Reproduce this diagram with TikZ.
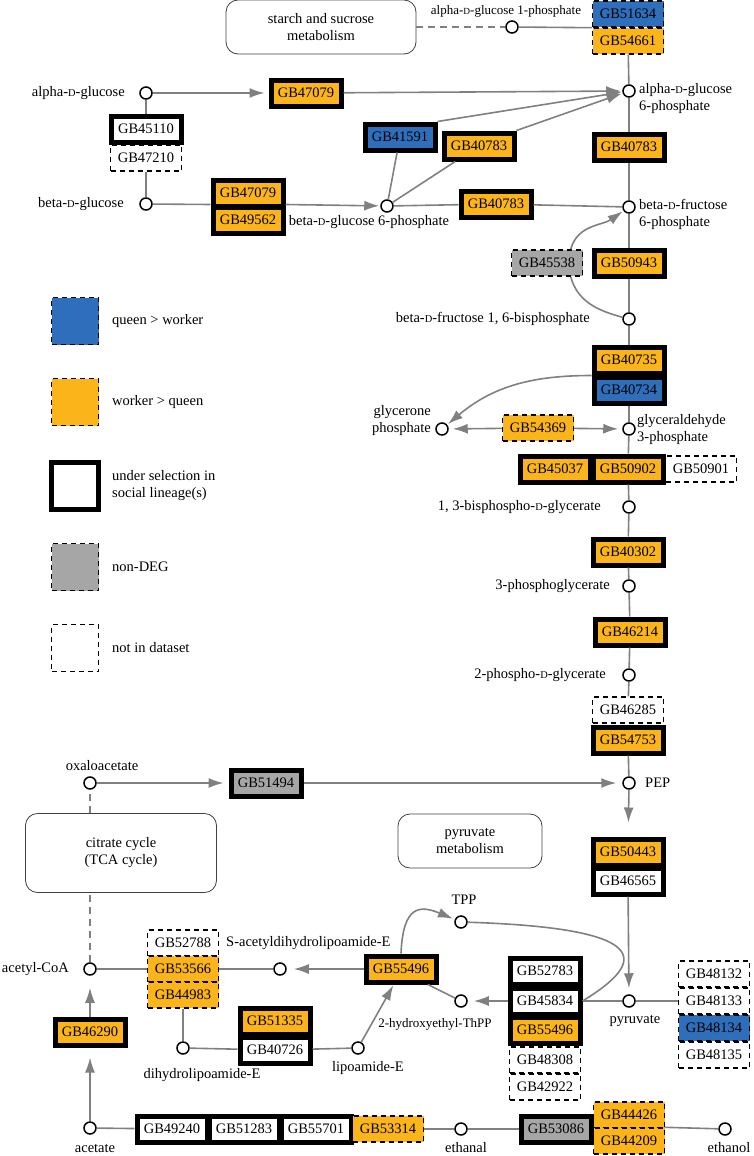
\documentclass[tikz,border=0pt]{standalone}
\usepackage{fontspec}
\setmainfont{Liberation Serif}
\usepackage{graphicx}
\usetikzlibrary{arrows.meta}

\definecolor{qwblue}{RGB}{47,110,186}
\definecolor{wqorange}{RGB}{251,180,26}
\definecolor{ndgrey}{RGB}{166,166,166}
\definecolor{edgegrey}{RGB}{128,128,128}

\newcommand{\dsc}{\scalebox{0.72}{D}}
\newcommand{\lblfont}{\fontsize{14.5}{17}\selectfont}
\newcommand{\smlfont}{\fontsize{13}{15}\selectfont}

\begin{document}
\begin{tikzpicture}[x=1pt, y=-1pt, font=\lblfont,
    met/.style={circle, draw=black, fill=white, line width=1.5pt, minimum size=12pt, inner sep=0pt},
    gene/.style={rectangle, minimum width=70pt, minimum height=26pt, inner sep=0pt},
    sel/.style={gene, draw=black, line width=5pt},
    nid/.style={gene, minimum width=71pt, draw=black, line width=1.4pt, dash pattern=on 5pt off 4pt},
    qw/.style={fill=qwblue}, wq/.style={fill=wqorange}, nd/.style={fill=ndgrey}, wht/.style={fill=white},
    legbox/.style={minimum size=47pt, inner sep=0pt},
    pathway/.style={rectangle, rounded corners=12pt, draw=black!75, line width=0.8pt, align=center},
    txt/.style={inner sep=0pt},
    rxn/.style={draw=edgegrey, line width=1.6pt},
    ar/.style={rxn, -{Latex[length=15pt, width=10pt]}, shorten >=4pt}]

    \useasboundingbox (0, 0) rectangle (753, 1156);

    \draw
    (321, 27) node[pathway, minimum width=190pt, minimum height=54pt](starch){starch and sucrose\\metabolism}
    (121, 853) node[pathway, minimum width=191pt, minimum height=79pt](tca){citrate cycle\\(TCA cycle)}
    (470, 841) node[pathway, minimum width=144pt, minimum height=54pt](pyrmet){pyruvate\\metabolism}

    (512, 27) node[met](a1p){}
    (146, 93) node[met](aglc){}
    (146, 204) node[met](bglc){}
    (387, 206) node[met](bg6p){}
    (629, 91) node[met](ag6p){}
    (629, 207) node[met](bf6p){}
    (629, 319) node[met](fbp){}
    (442, 429) node[met](dhap){}
    (629, 429) node[met](gap){}
    (629, 507) node[met](bpg){}
    (629, 586) node[met](pga3){}
    (629, 675) node[met](pga2){}
    (629, 783) node[met](pep){}
    (629, 1001) node[met](pyr){}
    (90, 783) node[met](oaa){}
    (90, 969) node[met](acoa){}
    (90, 1128) node[met](acet){}
    (280, 969) node[met](sacl){}
    (183, 1048) node[met](dhl){}
    (358, 1048) node[met](lip){}
    (461, 1001) node[met](hte){}
    (461, 922) node[met](tpp){}
    (461, 1129) node[met](ethal){}
    (725, 1129) node[met](ethol){};

    \draw
    (628, 14) node[nid, qw](g51634){GB51634}
    (628, 41) node[nid, wq](g54661){GB54661}
    (306, 93) node[sel, wq](g47079a){GB47079}
    (146, 129) node[sel, wht](g45110){GB45110}
    (146, 158) node[nid, wht](g47210){GB47210}
    (248, 193) node[sel, wq](g47079b){GB47079}
    (248, 220) node[sel, wq](g49562){GB49562}
    (400, 137) node[sel, qw](g41591){GB41591}
    (479, 146) node[sel, wq](g40783a){GB40783}
    (496, 204) node[sel, wq](g40783b){GB40783}
    (629, 147) node[sel, wq](g40783c){GB40783}
    (547, 263) node[nid, nd](g45538){GB45538}
    (629, 263) node[sel, wq](g50943){GB50943}
    (629, 360) node[sel, wq](g40735){GB40735}
    (629, 390) node[sel, qw](g40734){GB40734}
    (538, 428) node[nid, wq](g54369){GB54369}
    (555, 469) node[sel, wq](g45037){GB45037}
    (628, 469) node[sel, wq](g50902){GB50902}
    (701, 469) node[nid, wht](g50901){GB50901}
    (628, 552) node[sel, wq](g40302){GB40302}
    (630, 632) node[sel, wq](g46214){GB46214}
    (628, 710) node[nid, wht](g46285){GB46285}
    (628, 740) node[sel, wq](g54753){GB54753}
    (266, 783) node[sel, nd](g51494){GB51494}
    (628, 852) node[sel, wq](g50443){GB50443}
    (628, 881) node[sel, wht](g46565){GB46565}
    (545, 971) node[sel, wht](g52783){GB52783}
    (545, 1001) node[sel, wht](g45834){GB45834}
    (545, 1030) node[sel, wq](g55496b){GB55496}
    (545, 1060) node[nid, wht](g48308){GB48308}
    (545, 1087) node[nid, wht](g42922){GB42922}
    (714, 974) node[nid, wht](g48132){GB48132}
    (714, 1001) node[nid, wht](g48133){GB48133}
    (714, 1028) node[nid, qw](g48134){GB48134}
    (714, 1055) node[nid, wht](g48135){GB48135}
    (401, 969) node[sel, wq](g55496a){GB55496}
    (183, 943) node[nid, wht](g52788){GB52788}
    (183, 969) node[nid, wq](g53566){GB53566}
    (183, 995) node[nid, wq](g44983){GB44983}
    (275, 1021) node[sel, wq](g51335){GB51335}
    (275, 1050) node[sel, wht](g40726){GB40726}
    (90, 1032) node[sel, wq](g46290){GB46290}
    (172, 1129) node[sel, wht](g49240){GB49240}
    (244, 1129) node[sel, wht](g51283){GB51283}
    (316, 1129) node[sel, wht](g55701){GB55701}
    (388, 1129) node[nid, wq](g53314){GB53314}
    (556, 1129) node[sel, nd](g53086){GB53086}
    (629, 1115) node[nid, wq](g44426){GB44426}
    (629, 1141) node[nid, wq](g44209){GB44209};

    % metabolite names
    \draw
    (506, 11) node[txt, font=\smlfont](ta1p){alpha-\dsc-glucose 1-phosphate}
    (125, 93) node[txt, anchor=east](taglc){alpha-\dsc-glucose}
    (124, 204) node[txt, anchor=east](tbglc){beta-\dsc-glucose}
    (369, 222) node[txt](tbg6p){beta-\dsc-glucose 6-phosphate}
    (639, 99) node[txt, anchor=west, align=left](tag6p){alpha-\dsc-glucose\\6-phosphate}
    (639, 214) node[txt, anchor=west, align=left](tbf6p){beta-\dsc-fructose\\6-phosphate}
    (590, 319) node[txt, anchor=east](tfbp){beta-\dsc-fructose 1, 6-bisphosphate}
    (431, 421) node[txt, anchor=east, align=right](tdhap){glycerone\\phosphate}
    (637, 430) node[txt, anchor=west, align=left](tgap){glyceraldehyde\\3-phosphate}
    (601, 507) node[txt, anchor=east](tbpg){1, 3-bisphospho-\dsc-glycerate}
    (610, 586) node[txt, anchor=east](tpga3){3-phosphoglycerate}
    (606, 675) node[txt, anchor=east](tpga2){2-phospho-\dsc-glycerate}
    (645, 783) node[txt, anchor=west](tpep){PEP}
    (102, 766) node[txt](toaa){oxaloacetate}
    (69, 969) node[txt, anchor=east](tacoa){acetyl-CoA}
    (95, 1148) node[txt](tacet){acetate}
    (226, 943) node[txt, anchor=west](tsacl){S-acetyldihydrolipoamide-E}
    (202, 1075) node[txt](tdhl){dihydrolipoamide-E}
    (368, 1068) node[txt](tlip){lipoamide-E}
    (435, 1024) node[txt, font=\smlfont](thte){2-hydroxyethyl-ThPP}
    (464, 900) node[txt](ttpp){TPP}
    (635, 1021) node[txt](tpyr){pyruvate}
    (466, 1148) node[txt](tethal){ethanal}
    (729, 1148) node[txt](tethol){ethanol};

    % legend
    \draw
    (75, 321) node[nid, qw, legbox](leg1){}
    (75, 402) node[nid, wq, legbox](leg2){}
    (75, 486) node[sel, wht, legbox](leg3){}
    (75, 567) node[nid, nd, legbox](leg4){}
    (75, 648) node[nid, wht, legbox](leg5){}
    (112, 321) node[txt, anchor=west](tleg1){queen > worker}
    (112, 402) node[txt, anchor=west](tleg2){worker > queen}
    (112, 486) node[txt, anchor=west, align=left](tleg3){under selection in\\social lineage(s)}
    (112, 567) node[txt, anchor=west](tleg4){non-DEG}
    (112, 648) node[txt, anchor=west](tleg5){not in dataset};

    \draw[rxn, dash pattern=on 7pt off 5pt] (starch) -- (a1p);
    \draw[rxn] (a1p) -- (g51634.south west);
    \draw[rxn] (g54661) -- (ag6p);
    \draw[ar] (aglc) -- (g47079a);
    \draw[ar, shorten >=1pt] (g47079a) -- (ag6p);
    \draw[rxn] (aglc) -- (g45110);
    \draw[rxn] (g47210) -- (bglc);
    \draw[rxn] (bglc) -- (g49562.north west);
    \draw[ar, shorten >=1pt] (g49562.north east) -- (bg6p);
    \draw[rxn] (bg6p) -- (g41591);
    \draw[ar, shorten >=1pt] (g41591.north east) -- (ag6p);
    \draw[rxn] (bg6p) -- (g40783a);
    \draw[ar, shorten >=1pt] (g40783a.north east) -- (ag6p);
    \draw[rxn] (bg6p) -- (g40783b);
    \draw[rxn] (g40783b) -- (bf6p);
    \draw[rxn] (ag6p) -- (g40783c);
    \draw[rxn] (g40783c) -- (bf6p);
    \draw[rxn] (bf6p) -- (g50943);
    \draw[rxn] (g50943) -- (fbp);
    \draw[rxn] (fbp) to[out=165, in=-75] (g45538.-30);
    \draw[ar, shorten >=1pt] (g45538.30) to[out=75, in=-145] (bf6p);
    \draw[rxn] (fbp) -- (g40735);
    \draw[rxn] (g40734) -- (gap);
    \draw[ar, shorten >=1pt] (g40735.south west) to[out=180, in=40] (dhap);
    \draw[ar] (g54369) -- (dhap);
    \draw[ar] (g54369) -- (gap);
    \draw[rxn] (gap) -- (g50902);
    \draw[rxn] (g50902) -- (bpg);
    \draw[rxn] (bpg) -- (g40302);
    \draw[rxn] (g40302) -- (pga3);
    \draw[rxn] (pga3) -- (g46214);
    \draw[rxn] (g46214) -- (pga2);
    \draw[rxn] (pga2) -- (g46285);
    \draw[rxn] (g54753) -- (pep);
    \draw[ar, shorten >=5pt] (oaa) -- (g51494);
    \draw[ar, shorten >=6pt] (g51494) -- (pep);
    \draw[ar, shorten >=14pt] (pep) -- (g50443);
    \draw[ar, shorten >=6pt] (g46565) -- (pyr);
    \draw[rxn] (pyr) -- (g48133);
    \draw[rxn] (pyr) -- (g45834);
    \draw[ar, shorten >=6pt] (g45834) -- (hte);
    \draw[rxn] (g45834.east) .. controls (650, 960) and (650, 928) .. (tpp);
    \draw[ar, shorten >=2pt] (g55496a.north) .. controls (403, 905) and (420, 905) .. (tpp);
    \draw[rxn] (hte) -- (g55496a.-30);
    \draw[ar, shorten >=1pt] (lip) -- (g55496a.-115);
    \draw[ar, shorten >=7pt] (g55496a) -- (sacl);
    \draw[rxn] (sacl) -- (g53566);
    \draw[rxn] (g53566) -- (acoa);
    \draw[rxn] (g44983) -- (dhl);
    \draw[rxn] (dhl) -- (g40726);
    \draw[rxn] (g40726) -- (lip);
    \draw[ar, shorten >=10pt] (acet) -- (g46290);
    \draw[ar, shorten >=12pt] (g46290) -- (acoa);
    \draw[rxn, dash pattern=on 7pt off 5pt] (acoa) -- (acoa |- tca.south);
    \draw[rxn, dash pattern=on 7pt off 5pt] (oaa |- tca.north) -- (oaa);
    \draw[rxn] (acet) -- (g49240);
    \draw[rxn] (g53314) -- (ethal);
    \draw[rxn] (ethal) -- (g53086);
    \draw[rxn] (g44209.north east) -- (ethol);

\end{tikzpicture}
\end{document}
